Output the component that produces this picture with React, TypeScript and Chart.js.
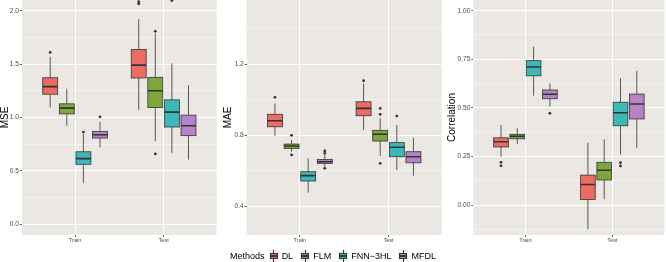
import React, { useEffect, useRef } from 'react';
import { Chart, registerables } from 'chart.js';

Chart.register(...registerables);

const FONT = "'Liberation Sans', Arial, Helvetica, sans-serif";

const groups = ['Train', 'Test'];
const methods = ['DL', 'FLM', 'FNN−3HL', 'MFDL'];
const methodColors = ['#EC6B62', '#7FA63A', '#3DB8B8', '#B683C8'];

// box statistics per group [Train, Test]: [lower whisker, Q1, median, Q3, upper whisker]
const mseDL = [[1.093, 1.218, 1.289, 1.372, 1.568], [1.072, 1.37, 1.49, 1.637, 1.919]];
const mseFLM = [[0.923, 1.034, 1.088, 1.128, 1.27], [0.777, 1.093, 1.251, 1.376, 1.786]];
const mseFNN = [[0.389, 0.562, 0.615, 0.679, 0.845], [0.668, 0.911, 1.05, 1.165, 1.507]];
const mseMFDL = [[0.72, 0.808, 0.839, 0.87, 0.96], [0.606, 0.83, 0.923, 1.022, 1.302]];
const mseDLOut = [[1.609], [2.065, 2.084]];
const mseFLMOut = [[], [1.807, 0.659]];
const mseFNNOut = [[0.864], [2.095]];
const mseMFDLOut = [[1.006], []];

const maeDL = [[0.798, 0.848, 0.882, 0.918, 0.979], [0.83, 0.91, 0.951, 0.988, 1.091]];
const maeFLM = [[0.708, 0.727, 0.74, 0.751, 0.774], [0.684, 0.768, 0.806, 0.828, 0.895]];
const maeFNN = [[0.478, 0.544, 0.574, 0.596, 0.671], [0.605, 0.68, 0.733, 0.759, 0.858]];
const maeMFDL = [[0.624, 0.643, 0.652, 0.665, 0.69], [0.574, 0.646, 0.68, 0.708, 0.787]];
const maeDLOut = [[1.013], [1.106]];
const maeFLMOut = [[0.8, 0.69], [0.951, 0.918, 0.643]];
const maeFNNOut = [[], [0.908]];
const maeMFDLOut = [[0.712, 0.699, 0.615], []];

const corDL = [[0.249, 0.299, 0.326, 0.346, 0.412], [-0.125, 0.029, 0.106, 0.154, 0.321]];
const corFLM = [[0.314, 0.341, 0.354, 0.364, 0.395], [0.031, 0.129, 0.179, 0.22, 0.338]];
const corFNN = [[0.563, 0.665, 0.71, 0.743, 0.815], [0.261, 0.408, 0.475, 0.529, 0.652]];
const corMFDL = [[0.506, 0.547, 0.57, 0.592, 0.626], [0.295, 0.443, 0.52, 0.571, 0.69]];
const corDLOut = [[0.22, 0.202], []];
const corFLMOut = [[], []];
const corFNNOut = [[], [0.218, 0.201]];
const corMFDLOut = [[0.472], []];

const mseTicks = [0, 0.5, 1, 1.5, 2];
const mseTickLabels = ['0.0', '0.5', '1.0', '1.5', '2.0'];
const mseMinor = [0.25, 0.75, 1.25, 1.75];
const maeTicks = [0.4, 0.8, 1.2];
const maeTickLabels = ['0.4', '0.8', '1.2'];
const maeMinor = [0.6, 1.0, 1.4];
const corTicks = [0, 0.25, 0.5, 0.75, 1];
const corTickLabels = ['0.00', '0.25', '0.50', '0.75', '1.00'];
const corMinor = [-0.125, 0.125, 0.375, 0.625, 0.875];

type PanelDef = {
  title: string;
  min: number;
  max: number;
  major: number[];
  majorLabels: string[];
  minor: number[];
  boxes: number[][][];
  outliers: number[][][];
  left: number;
  yWidth: number;
  padRight: number;
  titlePad: number;
};

const panels: PanelDef[] = [
  {
    title: 'MSE', min: -0.1, max: 2.1, major: mseTicks, majorLabels: mseTickLabels, minor: mseMinor,
    boxes: [mseDL, mseFLM, mseFNN, mseMFDL], outliers: [mseDLOut, mseFLMOut, mseFNNOut, mseMFDLOut],
    left: 0, yWidth: 22, padRight: 5.3, titlePad: 0,
  },
  {
    title: 'MAE', min: 0.241, max: 1.559, major: maeTicks, majorLabels: maeTickLabels, minor: maeMinor,
    boxes: [maeDL, maeFLM, maeFNN, maeMFDL], outliers: [maeDLOut, maeFLMOut, maeFNNOut, maeMFDLOut],
    left: 222, yWidth: 24.7, padRight: 2.3, titlePad: 1.5,
  },
  {
    title: 'Correlation', min: -0.154, max: 1.055, major: corTicks, majorLabels: corTickLabels, minor: corMinor,
    boxes: [corDL, corFLM, corFNN, corMFDL], outliers: [corDLOut, corFLMOut, corFNNOut, corMFDLOut],
    left: 444, yWidth: 29.3, padRight: 1.5, titlePad: 2.8,
  },
];

const DODGE = 0.1875;
const BOX_W = DODGE * 0.9;
const PANEL_BG = '#EBE8E4';
const INK = '#333333';

const bgPlugin = {
  id: 'panelBg',
  beforeDraw(chart: any) {
    const { ctx, chartArea: a } = chart;
    ctx.save();
    ctx.fillStyle = PANEL_BG;
    ctx.fillRect(a.left, a.top, a.right - a.left, a.bottom - a.top);
    ctx.restore();
  },
};

const makeBoxPlugin = (boxes: number[][][]) => ({
  id: 'boxes',
  beforeDatasetsDraw(chart: any) {
    const xs = chart.scales.x;
    const ys = chart.scales.y;
    const ctx = chart.ctx as CanvasRenderingContext2D;
    const a = chart.chartArea;
    ctx.save();
    ctx.beginPath();
    ctx.rect(a.left, a.top, a.right - a.left, a.bottom - a.top);
    ctx.clip();
    const halfW = (xs.getPixelForValue(BOX_W) - xs.getPixelForValue(0)) / 2;
    boxes.forEach((mStats, m) =>
      mStats.forEach((s, g) => {
        const cx = xs.getPixelForValue(g + 1 + (m - 1.5) * DODGE);
        const [lo, q1, med, q3, hi] = s.map((v) => ys.getPixelForValue(v));
        ctx.strokeStyle = INK;
        ctx.lineWidth = 0.8;
        ctx.beginPath();
        ctx.moveTo(cx, hi);
        ctx.lineTo(cx, q3);
        ctx.moveTo(cx, q1);
        ctx.lineTo(cx, lo);
        ctx.stroke();
        ctx.fillStyle = methodColors[m];
        ctx.fillRect(cx - halfW, q3, 2 * halfW, q1 - q3);
        ctx.strokeRect(cx - halfW, q3, 2 * halfW, q1 - q3);
        ctx.lineWidth = 1.6;
        ctx.beginPath();
        ctx.moveTo(cx - halfW, med);
        ctx.lineTo(cx + halfW, med);
        ctx.stroke();
      })
    );
    ctx.restore();
  },
});

const isMajor = (p: PanelDef, v: number) => p.major.some((t) => Math.abs(t - v) < 1e-6);

function makeConfig(p: PanelDef): any {
  const points: { x: number; y: number }[] = [];
  p.outliers.forEach((mOut, m) =>
    mOut.forEach((vals, g) => vals.forEach((v) => points.push({ x: g + 1 + (m - 1.5) * DODGE, y: v })))
  );
  return {
    type: 'scatter',
    data: {
      datasets: [
        {
          data: points,
          pointRadius: 1.4,
          pointBackgroundColor: INK,
          pointBorderWidth: 0,
          pointHoverRadius: 1.4,
        },
      ],
    },
    options: {
      animation: false,
      responsive: false,
      maintainAspectRatio: false,
      devicePixelRatio: 1,
      events: [],
      layout: { padding: { left: 0, right: p.padRight, top: 0, bottom: 0 }, autoPadding: false },
      plugins: { legend: { display: false }, tooltip: { enabled: false } },
      scales: {
        x: {
          type: 'linear',
          min: 0.4,
          max: 2.6,
          afterBuildTicks: (s: any) => {
            s.ticks = groups.map((_, i) => ({ value: i + 1 }));
          },
          afterFit: (s: any) => {
            s.height = 27;
            s.paddingLeft = 0;
            s.paddingRight = 0;
          },
          ticks: {
            callback: (v: number) => groups[Math.round(v) - 1] ?? '',
            font: { size: 5.6, family: FONT },
            color: '#4D4D4D',
            padding: 0,
            maxRotation: 0,
            autoSkip: false,
          },
          grid: { color: '#FFFFFF', lineWidth: 1, tickLength: 2, tickColor: INK, tickWidth: 0.8 },
          border: { display: false },
        },
        y: {
          type: 'linear',
          min: p.min,
          max: p.max,
          afterBuildTicks: (s: any) => {
            s.ticks = [...p.major, ...p.minor].sort((a, b) => a - b).map((v) => ({ value: v }));
          },
          afterFit: (s: any) => {
            s.width = p.yWidth;
            s.paddingTop = 0;
            s.paddingBottom = 0;
          },
          ticks: {
            callback: (v: number) => {
              const i = p.major.findIndex((t) => Math.abs(t - v) < 1e-6);
              return i >= 0 ? p.majorLabels[i] : '';
            },
            font: { size: 6.6, family: FONT },
            color: '#4D4D4D',
            padding: 1,
            autoSkip: false,
          },
          grid: {
            color: '#FFFFFF',
            lineWidth: (c: any) => (c.tick && isMajor(p, c.tick.value) ? 1 : 0.5),
            tickLength: 2,
            tickColor: (c: any) => (c.tick && isMajor(p, c.tick.value) ? INK : 'rgba(0,0,0,0)'),
            tickWidth: 0.8,
          },
          border: { display: false },
          title: {
            display: true,
            text: p.title,
            color: '#000000',
            font: { size: 10, family: FONT, lineHeight: 1 },
            padding: { top: p.titlePad, bottom: 0 },
          },
        },
      },
    },
    plugins: [bgPlugin, makeBoxPlugin(p.boxes)],
  };
}

function Panel({ p }: { p: PanelDef }) {
  const ref = useRef<HTMLCanvasElement | null>(null);
  useEffect(() => {
    if (!ref.current) return;
    const chart = new Chart(ref.current, makeConfig(p));
    return () => chart.destroy();
  }, [p]);
  return (
    <canvas
      ref={ref}
      width={222}
      height={262}
      style={{ position: 'absolute', left: p.left, top: 0, width: 222, height: 262 }}
    />
  );
}

function LegendKey({ color }: { color: string }) {
  return (
    <div style={{ position: 'relative', width: 10, height: 13, background: '#F2F2F2' }}>
      <div style={{ position: 'absolute', left: 4.6, top: 0.5, width: 0.8, height: 12, background: INK }} />
      <div
        style={{
          position: 'absolute', left: 1, top: 3.5, width: 8, height: 6, background: color,
          border: `0.8px solid ${INK}`, boxSizing: 'border-box',
        }}
      />
      <div style={{ position: 'absolute', left: 1, top: 5.8, width: 8, height: 1.5, background: INK }} />
    </div>
  );
}

export default function App() {
  return (
    <div style={{ position: 'absolute', left: 0, top: 0, width: 666, height: 262, background: '#FFFFFF', overflow: 'hidden' }}>
      {panels.map((p) => (
        <Panel key={p.title} p={p} />
      ))}
      <div
        style={{
          position: 'absolute', left: 0, top: 249, width: 666, height: 14, display: 'flex',
          alignItems: 'center', justifyContent: 'center', fontFamily: FONT, fontSize: 9, color: '#000',
        }}
      >
        <span style={{ marginRight: 4 }}>Methods</span>
        {methods.map((m, i) => (
          <div key={m} style={{ display: 'flex', alignItems: 'center', marginRight: i < methods.length - 1 ? 7 : 0 }}>
            <LegendKey color={methodColors[i]} />
            <span style={{ marginLeft: 3 }}>{m}</span>
          </div>
        ))}
      </div>
    </div>
  );
}
